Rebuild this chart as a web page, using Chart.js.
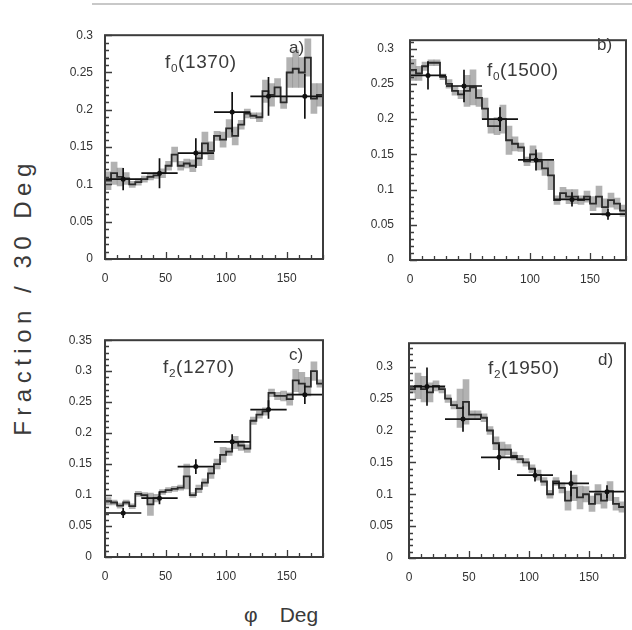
<!DOCTYPE html>
<html><head><meta charset="utf-8">
<script src="https://cdn.jsdelivr.net/npm/chart.js@4.4.0/dist/chart.umd.min.js"></script>
<style>
body{margin:0;background:#fff;width:632px;height:630px;overflow:hidden;position:relative;font-family:"Liberation Sans",Arial,sans-serif;}
canvas{position:absolute;}
.t{position:absolute;color:#3a3a3a;white-space:nowrap;line-height:1;}
.t sub{font-size:62%;vertical-align:-0.3em;}
</style></head><body>
<div style="position:absolute;left:92px;top:3px;width:540px;height:2px;background:#c8c8c8"></div>
<canvas id="ca"></canvas><canvas id="cb"></canvas><canvas id="cc"></canvas><canvas id="cd"></canvas>
<div class="t" id="ytitle" style="font-size:24px;letter-spacing:5.5px;left:23px;top:297px;transform:translate(-50%,-50%) rotate(-90deg);">Fraction / 30 Deg</div>
<div class="t" style="font-size:21px;left:244px;top:604px;">φ<span style="display:inline-block;width:22px"></span>Deg</div>
<div class="t" style="font-size:19px;letter-spacing:0.6px;left:165px;top:52px;">f<sub>0</sub>(1370)</div>
<div class="t" style="font-size:17px;left:289px;top:39px;">a)</div>
<div class="t" style="font-size:19px;letter-spacing:0.6px;left:487px;top:60px;">f<sub>0</sub>(1500)</div>
<div class="t" style="font-size:17px;left:597px;top:36px;">b)</div>
<div class="t" style="font-size:19px;letter-spacing:0.6px;left:163px;top:357px;">f<sub>2</sub>(1270)</div>
<div class="t" style="font-size:17px;left:289px;top:346px;">c)</div>
<div class="t" style="font-size:19px;letter-spacing:0.6px;left:488px;top:358px;">f<sub>2</sub>(1950)</div>
<div class="t" style="font-size:17px;left:598px;top:351px;">d)</div>
<script>
// ---- data ----
const binStarts = [0,5,10,15,20,25,30,35,40,45,50,55,60,65,70,75,80,85,90,95,100,105,110,115,120,125,130,135,140,145,150,155,160,165,170,175];
const binWidth = 5;
const pointAngles = [15,45,75,105,135,165];
const pointHalfWidth = 15;
const xTickValues = [0,50,100,150];
const xTickLabels = ['0','50','100','150'];

// a) f0(1370)
const histA = [0.105,0.115,0.110,0.108,0.100,0.103,0.107,0.110,0.112,0.115,0.125,0.140,0.125,0.128,0.125,0.135,0.155,0.145,0.165,0.160,0.175,0.165,0.180,0.195,0.192,0.190,0.225,0.220,0.230,0.210,0.250,0.255,0.250,0.270,0.215,0.220];
const bandA = [0.012,0.015,0.012,0.008,0.004,0.004,0.004,0.004,0.004,0.006,0.006,0.010,0.006,0.006,0.008,0.010,0.015,0.012,0.006,0.010,0.012,0.012,0.006,0.006,0.004,0.006,0.015,0.015,0.012,0.008,0.020,0.025,0.020,0.025,0.020,0.015];
const ptA = [0.107,0.115,0.142,0.197,0.218,0.218];
const ptErrA = [0.015,0.020,0.020,0.027,0.026,0.030];
const yTicksA = [0,0.05,0.1,0.15,0.2,0.25,0.3];
const yLabelsA = ['0','0.05','0.1','0.15','0.2','0.25','0.3'];

// b) f0(1500)
const histB = [0.270,0.265,0.275,0.280,0.280,0.260,0.250,0.240,0.235,0.240,0.245,0.230,0.215,0.190,0.190,0.200,0.170,0.165,0.160,0.140,0.150,0.140,0.130,0.120,0.085,0.095,0.090,0.090,0.085,0.090,0.080,0.090,0.075,0.085,0.080,0.070];
const bandB = [0.015,0.010,0.006,0.004,0.004,0.004,0.006,0.006,0.006,0.022,0.025,0.012,0.015,0.010,0.012,0.020,0.020,0.010,0.006,0.006,0.012,0.012,0.010,0.020,0.006,0.008,0.010,0.010,0.006,0.008,0.010,0.015,0.012,0.010,0.008,0.008];
const ptB = [0.262,0.247,0.200,0.142,0.086,0.065];
const ptErrB = [0.020,0.023,0.017,0.015,0.010,0.008];
const yTicksB = [0,0.05,0.1,0.15,0.2,0.25,0.3];
const yLabelsB = ['0','0.05','0.1','0.15','0.2','0.25','0.3'];

// c) f2(1270)
const histC = [0.090,0.088,0.083,0.088,0.082,0.102,0.100,0.085,0.095,0.105,0.108,0.110,0.112,0.130,0.100,0.110,0.120,0.135,0.150,0.165,0.170,0.185,0.180,0.175,0.220,0.230,0.235,0.265,0.260,0.260,0.255,0.285,0.280,0.275,0.300,0.280];
const bandC = [0.006,0.004,0.004,0.004,0.004,0.004,0.004,0.018,0.006,0.004,0.004,0.004,0.004,0.020,0.004,0.006,0.006,0.008,0.008,0.012,0.006,0.010,0.008,0.006,0.006,0.006,0.006,0.006,0.006,0.008,0.010,0.018,0.018,0.015,0.015,0.006];
const ptC = [0.071,0.095,0.146,0.186,0.238,0.262];
const ptErrC = [0.008,0.010,0.012,0.012,0.015,0.015];
const yTicksC = [0,0.05,0.1,0.15,0.2,0.25,0.3,0.35];
const yLabelsC = ['0','0.05','0.1','0.15','0.2','0.25','0.3','0.35'];

// d) f2(1950)
const histD = [0.265,0.270,0.265,0.260,0.270,0.265,0.250,0.240,0.235,0.245,0.225,0.225,0.220,0.200,0.180,0.170,0.170,0.160,0.155,0.150,0.140,0.130,0.120,0.100,0.120,0.110,0.090,0.110,0.095,0.100,0.085,0.100,0.090,0.105,0.085,0.080];
const bandD = [0.006,0.020,0.020,0.015,0.008,0.006,0.006,0.006,0.030,0.035,0.006,0.006,0.006,0.006,0.010,0.012,0.008,0.006,0.006,0.006,0.006,0.008,0.006,0.006,0.006,0.008,0.015,0.020,0.018,0.012,0.012,0.015,0.012,0.015,0.010,0.008];
const ptD = [0.269,0.218,0.158,0.130,0.117,0.104];
const ptErrD = [0.030,0.020,0.020,0.010,0.020,0.010];
const yTicksD = [0,0.05,0.1,0.15,0.2,0.25,0.3];
const yLabelsD = ['0','0.05','0.1','0.15','0.2','0.25','0.3'];

// ---- drawing ----
const INK = '#2a2a2a';
const framePlugin = {
  id: 'frame',
  afterDatasetsDraw(chart) {
    const {ctx, chartArea: a, scales: {x, y}} = chart;
    ctx.save();
    ctx.strokeStyle = '#3c3c3c';
    ctx.lineWidth = 2;
    ctx.strokeRect(a.left, a.top, a.right - a.left, a.bottom - a.top);
    ctx.lineWidth = 1.3;
    ctx.beginPath();
    for (let v = 0; v <= y.max + 1e-9; v += 0.01) {
      const p = Math.round(y.getPixelForValue(v)) + 0.5;
      const major = Math.abs(v / 0.05 - Math.round(v / 0.05)) < 1e-6;
      ctx.moveTo(a.left, p); ctx.lineTo(a.left + (major ? 7 : 4), p);
    }
    for (let v = 0; v <= 180; v += 10) {
      const p = Math.round(x.getPixelForValue(v)) + 0.5;
      const major = v % 50 === 0;
      ctx.moveTo(p, a.bottom); ctx.lineTo(p, a.bottom - (major ? 7 : 4));
    }
    ctx.stroke();
    ctx.restore();
  }
};

function makePanel(id, geom, hist, band, pts, perr, yMax, yTicks, yLabels, yPad) {
  const padL = 52, padT = 12, padR = 8, xH = 30;
  const cv = document.getElementById(id);
  const w = geom.R - geom.L + padL + padR, h = geom.B - geom.T + padT + xH;
  cv.width = w; cv.height = h;
  cv.style.left = (geom.L - padL) + 'px'; cv.style.top = (geom.T - padT) + 'px';
  cv.style.width = w + 'px'; cv.style.height = h + 'px';

  const histData = binStarts.map((s, i) => ({x: s, y: hist[i]}));
  histData.push({x: binStarts[binStarts.length - 1] + binWidth, y: hist[hist.length - 1]});
  const bandData = binStarts.map((s, i) => ({x: s + binWidth / 2, y: [hist[i] - band[i], hist[i] + band[i]]}));
  const hErr = [], vErr = [];
  pointAngles.forEach((c, i) => {
    hErr.push({x: c - pointHalfWidth, y: pts[i]}, {x: c + pointHalfWidth, y: pts[i]}, {x: c + pointHalfWidth, y: null});
    vErr.push({x: c, y: pts[i] - perr[i]}, {x: c, y: pts[i] + perr[i]}, {x: c, y: null});
  });
  const dots = pointAngles.map((c, i) => ({x: c, y: pts[i]}));

  new Chart(cv, {
    type: 'bar',
    data: {datasets: [
      {type: 'bar', data: bandData, backgroundColor: 'rgba(115,115,115,0.55)', borderWidth: 0,
       barPercentage: 1, categoryPercentage: 1, grouped: false, order: 4},
      {type: 'line', data: histData, stepped: 'before', borderColor: INK, borderWidth: 1.8,
       pointRadius: 0, fill: false, order: 3},
      {type: 'line', data: hErr, borderColor: '#111', borderWidth: 1.7, pointRadius: 0, spanGaps: false, order: 2},
      {type: 'line', data: vErr, borderColor: '#111', borderWidth: 1.7, pointRadius: 0, spanGaps: false, order: 1},
      {type: 'scatter', data: dots, pointRadius: 2.5, pointBackgroundColor: '#111', pointBorderWidth: 0, order: 0}
    ]},
    options: {
      responsive: false, animation: false, devicePixelRatio: 1,
      layout: {padding: {top: padT, right: padR, left: 0, bottom: 0}},
      plugins: {legend: {display: false}, tooltip: {enabled: false}},
      scales: {
        x: {type: 'linear', min: 0, max: 180, offset: false,
            grid: {display: false, drawTicks: false}, border: {display: false},
            afterFit: s => { s.height = xH; },
            afterBuildTicks: s => { s.ticks = xTickValues.map(v => ({value: v})); },
            ticks: {padding: 12, color: '#333', font: {size: 12, family: 'Liberation Sans'}, maxRotation: 0,
                    callback: v => xTickLabels[xTickValues.indexOf(v)]}},
        y: {type: 'linear', min: 0, max: yMax,
            grid: {display: false, drawTicks: false}, border: {display: false},
            afterFit: s => { s.width = padL; },
            afterBuildTicks: s => { s.ticks = yTicks.map(v => ({value: v})); },
            ticks: {padding: yPad, color: '#333', font: {size: 12, family: 'Liberation Sans'},
                    callback: v => yLabels[yTicks.indexOf(v)]}}
      }
    },
    plugins: [framePlugin]
  });
}

makePanel('ca', {L: 105, R: 323, T: 28, B: 259}, histA, bandA, ptA, ptErrA, 0.3, yTicksA, yLabelsA, 12);
makePanel('cb', {L: 410, R: 626, T: 29, B: 260}, histB, bandB, ptB, ptErrB, 0.312, yTicksB, yLabelsB, 16);
makePanel('cc', {L: 105, R: 323, T: 332, B: 557}, histC, bandC, ptC, ptErrC, 0.35, yTicksC, yLabelsC, 13);
makePanel('cd', {L: 409, R: 625, T: 332, B: 558}, histD, bandD, ptD, ptErrD, 0.337, yTicksD, yLabelsD, 16);
</script>
</body></html>
